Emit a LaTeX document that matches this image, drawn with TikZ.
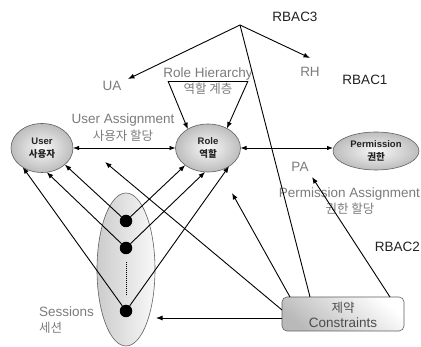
\documentclass[tikz,border=0pt]{standalone}
\usepackage{fontspec}
\setmainfont{Liberation Sans}
\newfontfamily\kr{Noto Sans CJK KR}
\usetikzlibrary{arrows.meta,shapes.geometric}
\definecolor{lblgray}{HTML}{7C7C7C}
\definecolor{txtdark}{HTML}{222222}
\begin{document}
\begin{tikzpicture}[x=1pt,y=-1pt,
  every node/.style={inner sep=0pt, outer sep=0pt},
  arr/.style={line width=0.9pt, -{Latex[length=6.5pt,width=5pt]}},
  dbl/.style={line width=0.8pt, {Latex[length=6pt,width=4.5pt]}-{Latex[length=6pt,width=4.5pt]}},
  plainline/.style={line width=0.9pt},
  ell/.style={ellipse, draw=gray!75!black, line width=0.6pt, inner color=gray!5, outer color=gray!52},
  lbl/.style={text=lblgray, font=\fontsize{13.5}{15}\selectfont},
  krlbl/.style={text=lblgray, font=\kr\fontsize{12.5}{14}\selectfont},
  rbac/.style={text=txtdark, font=\fontsize{13.5}{15}\selectfont},
  ntext/.style={font=\bfseries\fontsize{9.5}{13}\selectfont, align=center, text=txtdark},
  dot/.style={circle, fill=black, minimum size=12.5}]
\useasboundingbox (0,0) rectangle (421,347);
\fill[white] (0,0) rectangle (421,347);

% main nodes
\node[ell, ntext, minimum width=62, minimum height=49] (user) at (42,148) {User\\{\kr\bfseries 사용자}};
\node[ell, ntext, minimum width=65, minimum height=48] (role) at (208,148) {Role\\{\kr\bfseries 역할}};
\node[ell, ntext, minimum width=86, minimum height=38] (perm) at (376,151) {Permission\\{\kr\bfseries 권한}};
\node[ellipse, draw=gray!75!black, line width=0.6pt, left color=gray!40, right color=gray!5,
      minimum width=58, minimum height=153] (sess) at (126,269.5) {};
\node[draw=gray!75!black, line width=0.6pt, rounded corners=5pt, minimum width=122, minimum height=34,
      top color=white, bottom color=gray!55, shading angle=-40] (cons) at (343,314) {};
\node[text=black!70, font=\kr\fontsize{12.5}{14}\selectfont] (consk) at (343,308) {제약};
\node[text=black!70, font=\fontsize{13.5}{15}\selectfont] (conse) at (343,323) {Constraints};

% labels
\node[rbac] (rbac3) at (295,17) {RBAC3};
\node[rbac] (rbac1) at (365,80) {RBAC1};
\node[rbac, anchor=east] (rbac2) at (420,247) {RBAC2};
\node[lbl] (ua) at (112,86) {UA};
\node[lbl] (rh) at (310,72) {RH};
\node[lbl] (rhier) at (208,74) {Role Hierarchy};
\node[krlbl] (rhierk) at (208,89) {역할 계층};
\node[lbl] (uassn) at (123,120) {User Assignment};
\node[krlbl] (uassnk) at (123,136) {사용자 할당};
\node[lbl] (pa) at (300,167) {PA};
\node[lbl, anchor=east] (passn) at (420,194) {Permission Assignment};
\node[krlbl] (passnk) at (350,209) {권한 할당};
\node[lbl, anchor=west] (sesst) at (39,312) {Sessions};
\node[krlbl, anchor=west] (sessk) at (39,328) {세션};

% session dots
\node[dot] (d1) at (126,221) {};
\node[dot] (d2) at (126,248) {};
\node[dot] (d3) at (126,311) {};
\draw[densely dotted, line width=1pt] (d2) ++(0,14) coordinate (dotA) -- (126,295) coordinate (dotB);

% coordinates
\coordinate (apex) at (240,25);
\coordinate (uatip) at (128,79);
\coordinate (rhtip) at (310,58);
\coordinate (rhL) at (168,81);
\coordinate (rhR) at (248,81);
\coordinate (patip) at (312,177);
\coordinate (freeA) at (232,193);
\coordinate (freeB) at (105,162);
\coordinate (sesstip) at (156,318);

% RBAC3 lines
\draw[arr] (apex) -- (uatip);
\draw[arr] (apex) -- (rhtip);
\draw[plainline] (apex) -- ([xshift=28]cons.north west);

% role hierarchy
\draw[line width=0.8pt] (rhL) -- (rhR);
\draw[arr] (rhL) -- (role.137);
\draw[arr] (rhR) -- (role.46);

% assignments
\draw[dbl] (user.east) -- (role.west);
\draw[dbl] (role.east) -- (role.east -| perm.west);

% sessions to user / role
\draw[arr] (d1) -- (user.-36);
\draw[arr] (d2) -- (user.-79);
\draw[arr] (d3) -- (user.-135);
\draw[arr] (d1) -- (role.-143);
\draw[arr] (d2) -- (role.-97);
\draw[arr] (d3) -- (role.-41);

% constraints
\draw[arr] ([xshift=108]cons.north west) -- (patip);
\draw[arr] ([xshift=8]cons.north west) -- (freeA);
\draw[arr] ([yshift=-13]cons.north west) -- (freeB);
\draw[arr] (cons.west |- sesstip) -- (sesstip);
\end{tikzpicture}
\end{document}
